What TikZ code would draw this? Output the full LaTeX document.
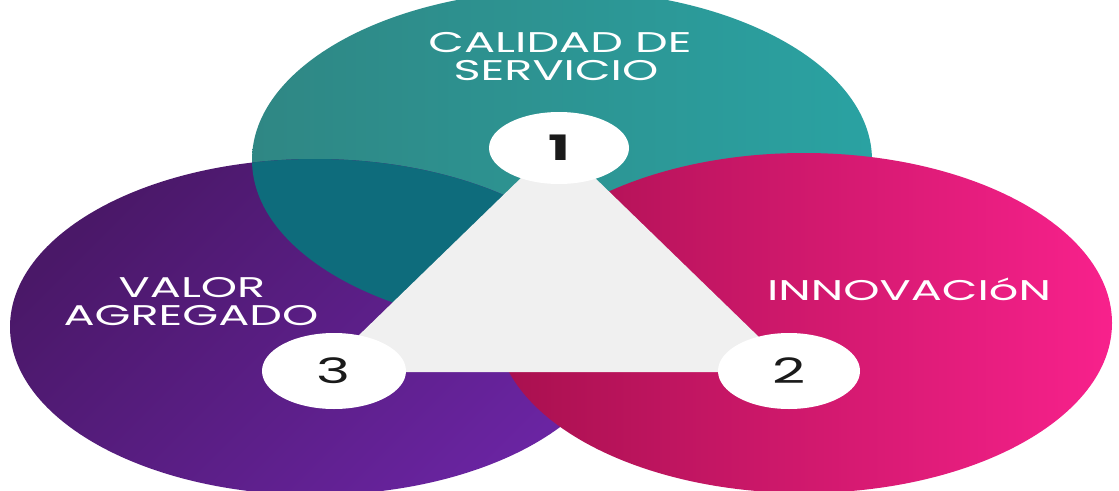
\documentclass[tikz,border=0pt]{standalone}
\usepackage{fontspec}
\usetikzlibrary{shapes.geometric}
\newfontfamily\geo[FakeStretch=1.62]{Poppins}
\newfontfamily\geodig[FakeStretch=1.65]{Poppins}
\definecolor{tealL}{HTML}{2F8784}
\definecolor{tealR}{HTML}{2AA2A2}
\definecolor{tealD}{HTML}{0E6C7C}
\definecolor{purpD}{HTML}{4A1868}
\definecolor{purpL}{HTML}{6A24A2}
\definecolor{pinkL}{HTML}{A8104E}
\definecolor{pinkM}{HTML}{E01A76}
\definecolor{pinkR}{HTML}{F8218C}
\definecolor{tri}{HTML}{F0F0F0}
\definecolor{digit}{HTML}{1A1A1A}
\tikzset{
  numbox/.style={ellipse, fill=white, inner sep=0pt, text=digit,
    font=\geodig\fontsize{35}{35}\selectfont},
  lbl/.style={text=white, inner sep=0pt, anchor=base,
    font=\geo\fontsize{28.5}{28.5}\selectfont},
}
\begin{document}
\begin{tikzpicture}[x=1pt,y=-1pt]
\useasboundingbox (0,0) rectangle (1119,490);
\clip (0,0) rectangle (1119,490);
\fill[white] (0,0) rectangle (1119,490);
% teal
\shade[left color=tealL, right color=tealR] (562,160) ellipse [x radius=310pt, y radius=170pt];
% purple
\shade[top color=purpD, bottom color=purpL, shading angle=45] (315,327) ellipse [x radius=305pt, y radius=168pt];
% teal/purple overlap
\begin{scope}
  \clip (562,160) ellipse [x radius=310pt, y radius=170pt];
  \fill[tealD] (315,327) ellipse [x radius=305pt, y radius=168pt];
\end{scope}
% pink
\shade[left color=pinkL, middle color=pinkM, right color=pinkR] (804,323) ellipse [x radius=308pt, y radius=170pt];
% triangle
\coordinate (ta) at (558,142);
\coordinate (tl) at (321,372);
\coordinate (tr) at (795,372);
\fill[tri] (ta) -- (tl) -- (tr) -- cycle;
% numbered ellipses
\node[numbox, minimum width=140pt, minimum height=72pt] (n1) at (559,148) {\bfseries 1};
\node[numbox, minimum width=142pt, minimum height=76pt] (n2) at (789,371) {2};
\node[numbox, minimum width=144pt, minimum height=76pt] (n3) at (334,371) {3};
% labels
\node[lbl] (cal1) at (560,52) {CALIDAD DE};
\node[lbl] (cal2) at (556,80) {SERVICIO};
\node[lbl] (val1) at (192,297) {VALOR};
\node[lbl] (val2) at (191,325) {AGREGADO};
\node[lbl] (inn) at (909,300) {INNOVACIóN};
\end{tikzpicture}
\end{document}
